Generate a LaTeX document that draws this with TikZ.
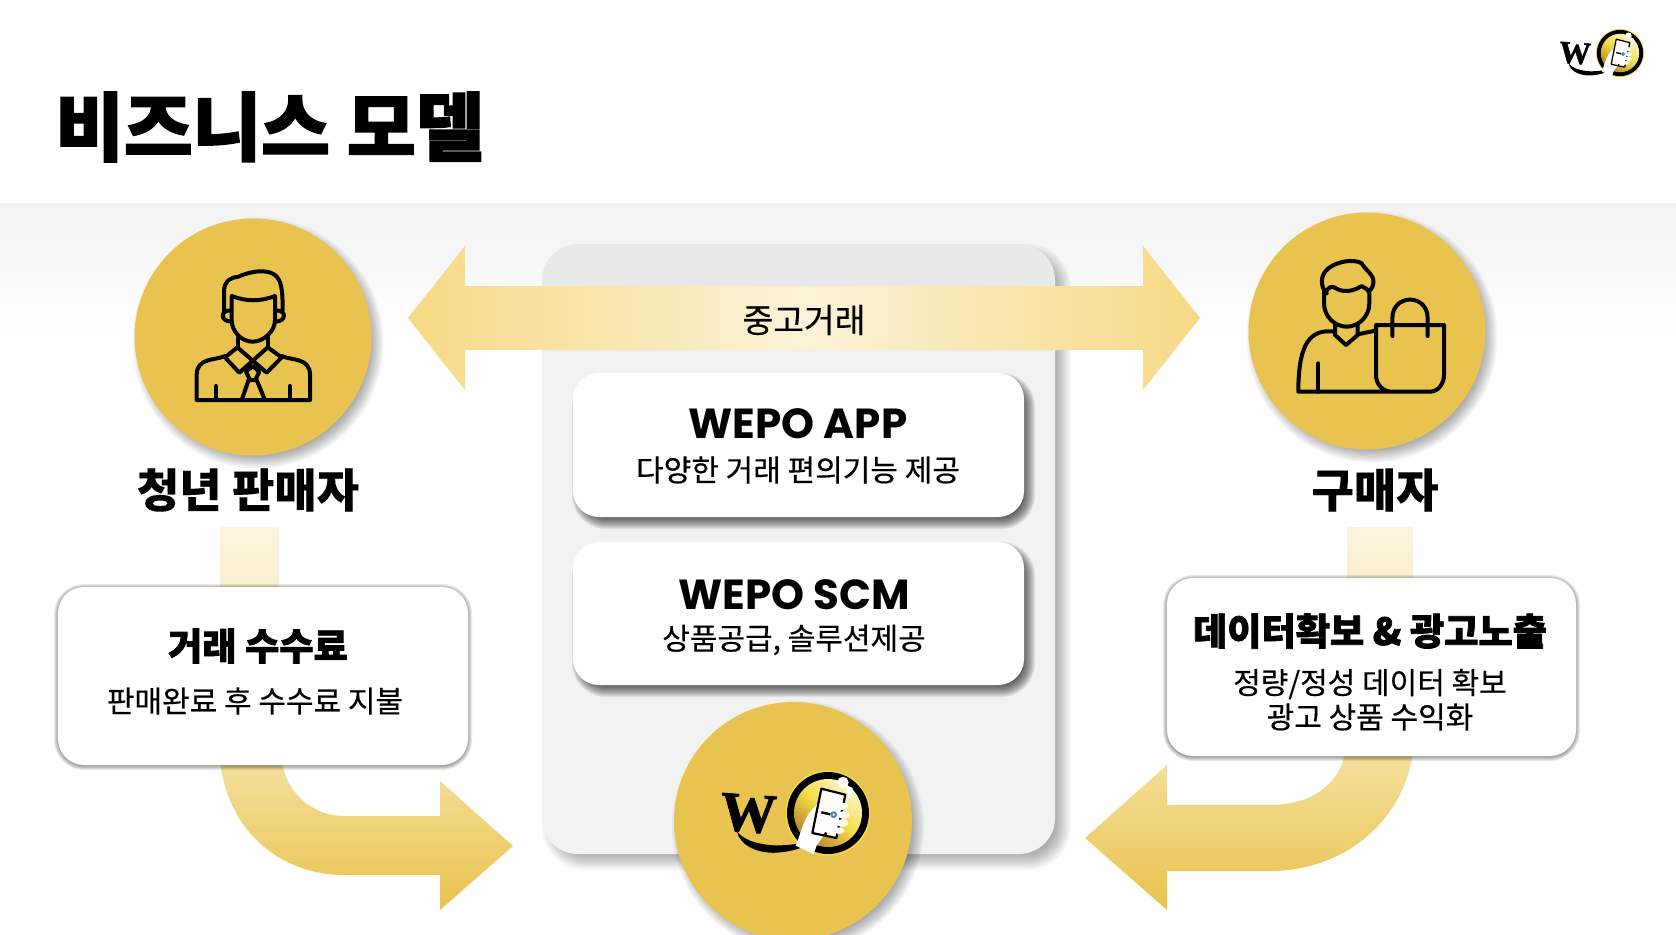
\documentclass[tikz,border=0pt]{standalone}
\usepackage{fontspec}
\usetikzlibrary{calc}
\setmainfont{Noto Sans CJK KR}
\newfontfamily\krm{Noto Sans CJK KR}[FakeBold=0.35]
\newfontfamily\krb{Noto Sans CJK KR}[BoldFeatures={FakeBold=0.1}]
\newfontfamily\krh{Noto Sans CJK KR}[BoldFeatures={FakeBold=2}]
\newfontfamily\latinb{Poppins}
\newfontfamily\serifw{Liberation Serif}[BoldFeatures={FakeBold=1.5}]
\definecolor{discgold}{HTML}{E8C34F}
\definecolor{bandgray}{HTML}{F2F2F2}
\definecolor{panelgray}{HTML}{F2F2F2}
\definecolor{paneltop}{HTML}{E9E9E9}
\definecolor{arrowend}{HTML}{F6D985}
\definecolor{arrowmid}{HTML}{FBF3D8}
\definecolor{paletop}{HTML}{FBF5DF}
\definecolor{palebot}{HTML}{F9EFCC}
\definecolor{curvetop}{HTML}{F4E09E}
\definecolor{curvebot}{HTML}{EAC34C}
\definecolor{ringpale}{HTML}{FBF6CC}
\definecolor{ringyellow}{HTML}{F3DB45}
\definecolor{ringbrown}{HTML}{B9822A}
\pgfdeclareverticalshading{panelshade}{100bp}{color(0bp)=(panelgray);color(66bp)=(panelgray);color(67bp)=(paneltop);color(100bp)=(paneltop)}
\tikzset{
  disc/.style={circle,fill=discgold,minimum size=118.5pt,inner sep=0pt},
  card/.style={rectangle,fill=white,rounded corners=13pt,inner sep=0pt},
  ink/.style={draw=black,line width=2pt,line cap=round,line join=round},
  tbody/.style={font=\krm\fontsize{15}{18}\selectfont,inner sep=0pt,anchor=center},
  thead/.style={font=\krh\bfseries\fontsize{18.6}{22}\selectfont,inner sep=0pt,anchor=center},
  tlabel/.style={font=\krb\bfseries\fontsize{23}{26}\selectfont,inner sep=0pt,anchor=center},
  tlatin/.style={font=\latinb\bfseries\fontsize{21}{24}\selectfont,inner sep=0pt,anchor=center}
}
% soft rectangular shadow: x1 y1 x2 y2 radius(pt) dx dy spread opacity
\newcommand{\rshadow}[9]{%
  \foreach \k in {0,...,9}{%
    \pgfmathsetmacro{\ss}{#8*(1-\k/4.5)}%
    \pgfmathsetmacro{\rr}{max(#5+\ss/2,1)}%
    \fill[black,opacity=#9,rounded corners=\rr pt] ({#1+#6-\ss},{#2+#7-\ss}) rectangle ({#3+#6+\ss},{#4+#7+\ss});
  }}
% soft round shadow: cx cy r dx dy spread opacity
\newcommand{\cshadow}[7]{%
  \foreach \k in {0,...,9}{%
    \pgfmathsetmacro{\ss}{#6*(1-\k/4.5)}%
    \fill[black,opacity=#7] ({#1+#4},{#2+#5}) circle[radius=#3+\ss];
  }}
% WEPO logo: centre of the ring cx cy, scale, W font size, name prefix
\newcommand{\wepologo}[5]{%
  \begin{scope}[shift={(#1,#2)},x=#3*0.16667pt,y=-#3*0.16667pt,shift={(-505,-370)}]
    \fill[black] (232,425) .. controls (240,470) and (300,492) .. (350,489) .. controls (400,486) and (440,472) .. (472,450) .. controls (430,462) and (370,470) .. (330,466) .. controls (290,462) and (250,450) .. (232,425) -- cycle;
    \node[font=\serifw\bfseries\fontsize{#4}{#4}\selectfont,text=black,inner sep=0pt,rotate=-4] (#5W) at (266,372) {W};
    \fill[color={rgb,255:red,245;green,218;blue,70}] (505,370) circle[radius=128];
    \fill[black] (505,370) circle[radius=123];
    \shade[left color=ringpale,right color=ringbrown,middle color=ringyellow,shading angle=-40] (505,370) circle[radius=102];
    \fill[white] (408,468) .. controls (425,430) and (430,380) .. (472,345) -- (490,440) -- (470,470) -- (462,494) -- cycle;
    \filldraw[fill=white,draw=black,line width=#3*1.1pt,line join=round] (485,297) -- (557,315) -- (530,445) -- (458,430) -- cycle;
    \fill[white] (548,350) ellipse[x radius=18,y radius=11];
    \fill[white] (552,376) ellipse[x radius=18,y radius=11];
    \fill[white] (548,400) ellipse[x radius=18,y radius=11];
    \fill[white] (538,423) ellipse[x radius=16,y radius=10];
    \draw[black,line width=#3*1.2pt] (485,368) -- (512,374);
    \draw[color={rgb,255:red,60;green,140;blue,190},line width=#3*1pt] (522,375) circle[radius=7];
    \fill[black] (498,432) circle[radius=5];
    \fill[white] (550,278) circle[radius=17];
    \fill[white] (570,302) circle[radius=11];
    \fill[white] (570,322) circle[radius=6];
  \end{scope}}
\begin{document}
\begin{tikzpicture}[x=0.5pt,y=-0.5pt]
\useasboundingbox (0,0) rectangle (1676,934);
\clip (0,0) rectangle (1676,934);
\fill[white] (0,0) rectangle (1676,934);
% background band
\shade[top color=bandgray,bottom color=white] (0,203) rectangle (1676,335);
% title
\node[font=\krh\bfseries\fontsize{37.3}{40}\selectfont,inner sep=0pt,anchor=west] (title) at (55,127) {비즈니스 모델};
% top right logo
\wepologo{1620}{53}{0.565}{15.8}{small}
% central panel
\rshadow{542}{244}{1055}{854}{18}{8}{8}{8}{0.035}
\path[shading=panelshade,rounded corners=18pt] (542,244) rectangle (1055,854);
% second-hand trade arrow
\shade[left color=arrowend,right color=arrowend,middle color=arrowmid]
  (408,318) -- (465,246) -- (465,286) -- (1143,286) -- (1143,246) -- (1200,318) -- (1143,390) -- (1143,350) -- (465,350) -- (465,390) -- cycle;
\node[font=\krm\fontsize{16.7}{20}\selectfont,inner sep=0pt] (trade) at (804,320) {중고거래};
% seller and buyer
\cshadow{253}{337}{118.5}{5}{6}{7}{0.04}
\node[disc] (seller) at (253,337) {};
\cshadow{1367}{331}{118.5}{5}{6}{7}{0.04}
\node[disc] (buyer) at (1367,331) {};
% seller icon
\begin{scope}[shift={(100,200)},x=0.16667pt,y=-0.16667pt]
  \draw[ink] (372,332) -- (372,270) .. controls (375,240) and (395,232) .. (415,230) .. controls (460,210) and (500,210) .. (520,222) .. controls (545,235) and (548,270) .. (548,332);
  \draw[ink] (395,288) .. controls (440,305) and (480,305) .. (525,288) -- (525,360) .. controls (525,395) and (490,425) .. (458,425) .. controls (425,425) and (395,395) .. (395,360) -- cycle;
  \draw[ink] (392,332) .. controls (362,328) and (358,364) .. (394,365);
  \draw[ink] (528,332) .. controls (558,328) and (562,364) .. (526,365);
  \draw[ink] (415,412) -- (415,442); \draw[ink] (503,412) -- (503,442);
  \draw[ink] (412,442) -- (375,472) -- (418,518) -- (503,442) -- (545,472) -- (500,518) -- (412,442);
  \draw[ink] (438,515) -- (458,498) -- (478,515) -- (466,540) -- (450,540) -- cycle;
  \draw[ink] (446,540) -- (425,600); \draw[ink] (470,540) -- (495,600);
  \draw[ink] (375,468) .. controls (345,482) and (290,472) .. (290,525) -- (290,600) -- (630,600) -- (630,525) .. controls (630,472) and (575,482) .. (545,468);
  \draw[ink] (348,558) -- (348,600); \draw[ink] (570,558) -- (570,600);
\end{scope}
% buyer icon
\begin{scope}[shift={(1220,200)},x=0.16667pt,y=-0.16667pt]
  \draw[ink] (320,280) .. controls (300,260) and (300,225) .. (325,205) .. controls (350,185) and (400,175) .. (425,190) .. controls (435,210) and (465,225) .. (460,250) .. controls (458,265) and (450,270) .. (445,275);
  \draw[ink] (320,272) .. controls (335,250) and (345,265) .. (358,270) .. controls (385,278) and (410,268) .. (425,258) .. controls (435,262) and (440,270) .. (448,272);
  \draw[ink] (312,270) -- (312,310) .. controls (312,350) and (345,380) .. (380,380) .. controls (415,380) and (448,350) .. (448,310) -- (448,270);
  \draw[ink] (345,372) -- (345,405) -- (378,435) -- (413,405) -- (413,372);
  \draw[ink] (345,395) .. controls (270,385) and (235,430) .. (235,575) -- (630,575) .. controls (655,575) and (672,550) .. (672,525) -- (672,375) -- (468,375) -- (468,525) .. controls (468,555) and (490,575) .. (515,575);
  \draw[ink] (413,403) -- (465,392);
  \draw[ink] (295,490) -- (295,575);
  \draw[ink] (517,408) -- (517,355) .. controls (517,280) and (623,280) .. (623,355) -- (623,408);
\end{scope}
\node[tlabel] (sellerlabel) at (248,490) {청년 판매자};
\node[tlabel] (buyerlabel) at (1375,490) {구매자};
% left connector
\shade[top color=paletop,bottom color=palebot] (220,527) rectangle (279,590);
\shade[top color=curvetop,bottom color=curvebot]
  (220,760) .. controls (226,825) and (275,875) .. (345,875) -- (440,875) -- (440,910) -- (513,846) -- (440,781) -- (440,816) -- (345,816) .. controls (310,816) and (285,790) .. (282,760) -- cycle;
% right connector
\shade[top color=paletop,bottom color=palebot] (1347,527) rectangle (1413,582);
\shade[top color=curvetop,bottom color=curvebot]
  (1413,752) .. controls (1404,820) and (1345,871) .. (1270,871) -- (1167,871) -- (1167,910) -- (1085,838) -- (1167,765) -- (1167,805) -- (1270,805) .. controls (1310,805) and (1340,785) .. (1345,752) -- cycle;
% left card
\rshadow{58}{587}{468}{765}{13}{0}{1}{4}{0.08}
\node[card,minimum width=205pt,minimum height=89pt] (fee) at (263,676) {};
\node[thead] (feetitle) at (258,646) {거래 수수료};
\node[tbody] (feetext) at (255,701) {판매완료 후 수수료 지불};
% right card
\rshadow{1167}{578}{1576}{756}{13}{0}{1}{4}{0.08}
\node[card,minimum width=204.5pt,minimum height=89pt] (data) at (1371.5,667) {};
\node[thead] (datatitle) at (1370,631) {데이터확보 \& 광고노출};
\node[tbody] (datatext1) at (1370,684) {정량/정성 데이터 확보};
\node[tbody] (datatext2) at (1370,717) {광고 상품 수익화};
% central cards
\rshadow{573}{373}{1024}{517}{14}{5}{6}{6}{0.085}
\node[card,minimum width=225.5pt,minimum height=72pt] (app) at (798.5,445) {};
\node[tlatin] (apptitle) at (798,424) {WEPO APP};
\node[tbody] (apptext) at (798,470) {다양한 거래 편의기능 제공};
\rshadow{573}{542}{1024}{685}{14}{5}{6}{6}{0.085}
\node[card,minimum width=225.5pt,minimum height=71.5pt] (scm) at (798.5,613.5) {};
\node[tlatin] (scmtitle) at (794,595) {WEPO SCM};
\node[tbody] (scmtext) at (794,640) {상품공급, 솔루션제공};
% bottom disc with logo
\cshadow{793}{821}{119}{5}{6}{7}{0.04}
\node[disc,minimum size=119pt] (wepo) at (793,821) {};
\wepologo{828}{813}{1}{28}{big}
\end{tikzpicture}
\end{document}
